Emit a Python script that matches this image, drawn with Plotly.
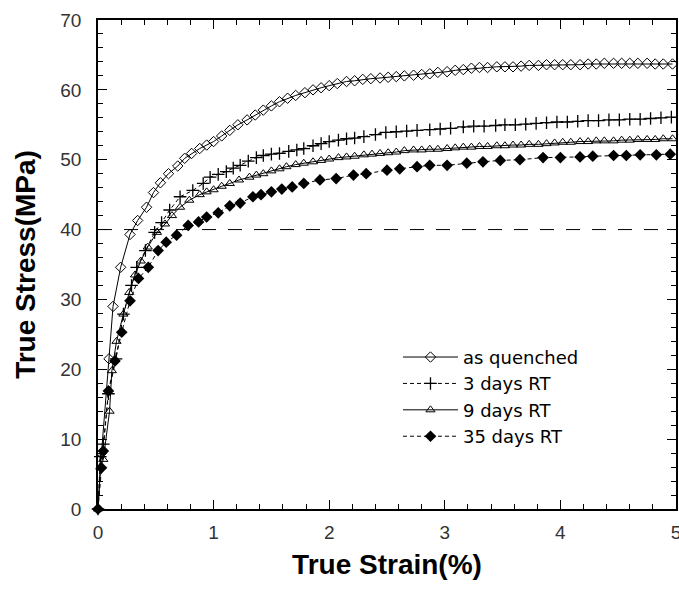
import plotly.graph_objects as go

# ---- data ----
aq_x = [0, 0.03, 0.095, 0.13, 0.196, 0.277, 0.343, 0.42, 0.48, 0.54, 0.61, 0.69, 0.75, 0.81, 0.88, 0.94,
        1.00, 1.07, 1.14, 1.21, 1.29, 1.36, 1.43, 1.50, 1.57, 1.64, 1.71, 1.79, 1.86, 1.93, 2.00, 2.07,
        2.15, 2.22, 2.29, 2.36, 2.44, 2.51, 2.58, 2.65, 2.73, 2.80, 2.87, 2.94, 3.02, 3.09, 3.16, 3.23,
        3.30, 3.37, 3.45, 3.52, 3.59, 3.66, 3.73, 3.81, 3.88, 3.95, 4.02, 4.09, 4.17, 4.24, 4.31, 4.38,
        4.46, 4.53, 4.60, 4.67, 4.75, 4.82, 4.89, 4.97]
aq_y = [0, 8.0, 21.5, 29.0, 34.6, 39.3, 41.3, 43.2, 45.3, 46.7, 48.0, 49.1, 50.2, 50.9, 51.6, 52.1,
        52.6, 53.4, 54.2, 55.0, 55.7, 56.4, 57.1, 57.7, 58.3, 58.8, 59.2, 59.6, 60.0, 60.3, 60.6, 60.9,
        61.2, 61.3, 61.5, 61.6, 61.7, 61.8, 61.9, 62.0, 62.1, 62.2, 62.3, 62.5, 62.6, 62.8, 62.9, 63.1,
        63.2, 63.2, 63.3, 63.3, 63.3, 63.4, 63.5, 63.5, 63.6, 63.6, 63.6, 63.6, 63.6, 63.7, 63.7, 63.8,
        63.8, 63.8, 63.8, 63.8, 63.8, 63.7, 63.7, 63.7]

d3_x = [0, 0.02, 0.046, 0.09, 0.156, 0.22, 0.29, 0.335, 0.41, 0.49, 0.55, 0.62, 0.71, 0.82, 0.91, 0.97,
        1.04, 1.11, 1.17, 1.23, 1.30, 1.37, 1.43, 1.50, 1.57, 1.65, 1.72, 1.78, 1.86, 1.93, 2.00, 2.08,
        2.15, 2.22, 2.30, 2.40, 2.49, 2.58, 2.67, 2.76, 2.87, 2.96, 3.05, 3.16, 3.25, 3.34, 3.44, 3.52,
        3.61, 3.70, 3.79, 3.88, 3.97, 4.06, 4.15, 4.24, 4.33, 4.42, 4.51, 4.60, 4.69, 4.78, 4.87, 4.96]
d3_y = [0, 7.5, 9.3, 16.5, 21.5, 27.9, 32.0, 34.6, 37.0, 39.6, 41.0, 42.8, 44.7, 45.6, 46.6, 47.5,
        47.9, 48.3, 48.8, 49.2, 49.8, 50.3, 50.6, 50.8, 50.9, 51.2, 51.4, 51.6, 52.0, 52.3, 52.6, 52.8,
        53.0, 53.1, 53.3, 53.6, 53.9, 54.0, 54.1, 54.2, 54.3, 54.4, 54.5, 54.7, 54.8, 54.8, 54.9, 55.0,
        55.0, 55.1, 55.2, 55.3, 55.4, 55.4, 55.5, 55.6, 55.6, 55.7, 55.7, 55.8, 55.8, 55.9, 56.0, 56.1]

d9_x = [0, 0.02, 0.046, 0.10, 0.12, 0.16, 0.22, 0.27, 0.32, 0.37, 0.43, 0.51, 0.58, 0.64, 0.71, 0.79,
        0.88, 0.94, 1.00, 1.07, 1.14, 1.22, 1.31, 1.37, 1.43, 1.50, 1.57, 1.63, 1.71, 1.78, 1.86, 1.93,
        2.00, 2.08, 2.15, 2.22, 2.30, 2.37, 2.44, 2.51, 2.58, 2.65, 2.73, 2.80, 2.87, 2.94, 3.02, 3.09,
        3.16, 3.23, 3.30, 3.37, 3.45, 3.52, 3.59, 3.66, 3.73, 3.81, 3.88, 3.95, 4.02, 4.09, 4.17, 4.24,
        4.31, 4.38, 4.46, 4.53, 4.60, 4.67, 4.75, 4.82, 4.89, 4.97]
d9_y = [0, 6.0, 7.1, 14.0, 19.8, 24.0, 27.9, 31.0, 33.5, 35.5, 37.5, 39.6, 40.8, 42.0, 43.2, 44.2,
        45.0, 45.4, 45.7, 46.2, 46.6, 47.1, 47.5, 47.8, 48.0, 48.4, 48.7, 49.0, 49.3, 49.5, 49.7, 49.9,
        50.1, 50.3, 50.4, 50.5, 50.7, 50.8, 50.9, 51.0, 51.1, 51.3, 51.4, 51.4, 51.5, 51.5, 51.6, 51.7,
        51.8, 51.8, 51.9, 51.9, 52.0, 52.0, 52.1, 52.1, 52.2, 52.2, 52.3, 52.4, 52.5, 52.5, 52.6, 52.6,
        52.7, 52.7, 52.7, 52.8, 52.8, 52.9, 52.9, 52.9, 53.0, 53.0]

d35_x = [0, 0.03, 0.046, 0.09, 0.147, 0.205, 0.277, 0.35, 0.435, 0.52, 0.59, 0.68, 0.78, 0.87, 0.94,
         1.04, 1.14, 1.23, 1.34, 1.41, 1.50, 1.59, 1.68, 1.78, 1.92, 2.06, 2.21, 2.32, 2.50, 2.61, 2.76,
         2.87, 3.02, 3.19, 3.33, 3.48, 3.65, 3.85, 4.00, 4.17, 4.28, 4.46, 4.57, 4.69, 4.83, 4.95]
d35_y = [0, 5.9, 8.3, 16.9, 21.2, 25.3, 29.8, 33.0, 34.6, 37.0, 38.2, 39.2, 40.6, 41.1, 41.8,
         42.4, 43.4, 43.8, 44.7, 45.0, 45.4, 45.8, 46.1, 46.6, 47.1, 47.3, 47.8, 48.0, 48.5, 48.7, 49.0,
         49.2, 49.2, 49.5, 49.7, 49.9, 50.0, 50.3, 50.3, 50.4, 50.5, 50.6, 50.6, 50.7, 50.7, 50.8]

ref_stress = 40
x_ticks = [0, 1, 2, 3, 4, 5]
y_ticks = [0, 10, 20, 30, 40, 50, 60, 70]

fig = go.Figure()

fig.add_trace(go.Scatter(
    x=aq_x, y=aq_y, name="as quenched", mode="lines+markers",
    line=dict(color="black", width=1),
    marker=dict(symbol="diamond-open", size=8, color="black", line=dict(width=1)),
    cliponaxis=False))
fig.add_trace(go.Scatter(
    x=d3_x, y=d3_y, name="3 days RT", mode="lines+markers",
    line=dict(color="black", width=1, dash="4px,3px"),
    marker=dict(symbol="cross-thin-open", size=9, color="black", line=dict(width=1.3, color="black")),
    cliponaxis=False))
fig.add_trace(go.Scatter(
    x=d9_x, y=d9_y, name="9 days RT", mode="lines+markers",
    line=dict(color="black", width=1),
    marker=dict(symbol="triangle-up-open", size=8, color="black", line=dict(width=1)),
    cliponaxis=False))
fig.add_trace(go.Scatter(
    x=d35_x, y=d35_y, name="35 days RT", mode="lines+markers",
    line=dict(color="black", width=1, dash="4px,3px"),
    marker=dict(symbol="diamond", size=9, color="black"),
    cliponaxis=False))

fig.add_shape(type="line", xref="x", yref="y", x0=x_ticks[0], x1=x_ticks[-1],
              y0=ref_stress, y1=ref_stress,
              line=dict(color="black", width=1, dash="14px,12px"))

axis_common = dict(
    showline=True, linecolor="black", linewidth=1.5, mirror="allticks",
    ticks="inside", ticklen=9, tickwidth=1, tickcolor="black",
    showgrid=False, zeroline=False, automargin=False,
    tickfont=dict(family="Liberation Sans, Arial, sans-serif", size=19, color="#333"),
)

fig.update_xaxes(
    range=[0, 5], tickvals=x_ticks, ticktext=[str(v) for v in x_ticks],
    minor=dict(ticks="inside", ticklen=5, tickcolor="black", dtick=0.2, showgrid=False),
    title=dict(text="<b>True Strain(%)</b>", standoff=13,
               font=dict(family="Liberation Sans, Arial, sans-serif", size=28, color="black")),
    ticklabelstandoff=5, ticklabeloverflow="allow",
    **axis_common)
fig.update_yaxes(
    range=[0, 70], tickvals=y_ticks, ticktext=[str(v) for v in y_ticks],
    minor=dict(ticks="inside", ticklen=5, tickcolor="black", dtick=2, showgrid=False),
    title=dict(text="<b>True Stress(MPa)</b>", standoff=17,
               font=dict(family="Liberation Sans, Arial, sans-serif", size=28, color="black")),
    ticklabelstandoff=11, ticklabeloverflow="allow",
    **axis_common)

fig.update_layout(
    width=679, height=589,
    margin=dict(l=98, r=3, t=20, b=80),
    paper_bgcolor="white", plot_bgcolor="white",
    showlegend=True,
    legend=dict(x=0.519, y=0.348, xanchor="left", yanchor="top",
                bgcolor="rgba(0,0,0,0)", borderwidth=0,
                itemwidth=55, tracegroupgap=0,
                font=dict(family="DejaVu Sans, Liberation Sans, sans-serif", size=18, color="black")),
)

# remove the default 8px page margin so the 679x589 figure fills the window exactly
fig.write_html("out.html",
               config={"displayModeBar": False},
               post_script="document.body.style.margin='0';document.body.style.overflow='hidden';")
